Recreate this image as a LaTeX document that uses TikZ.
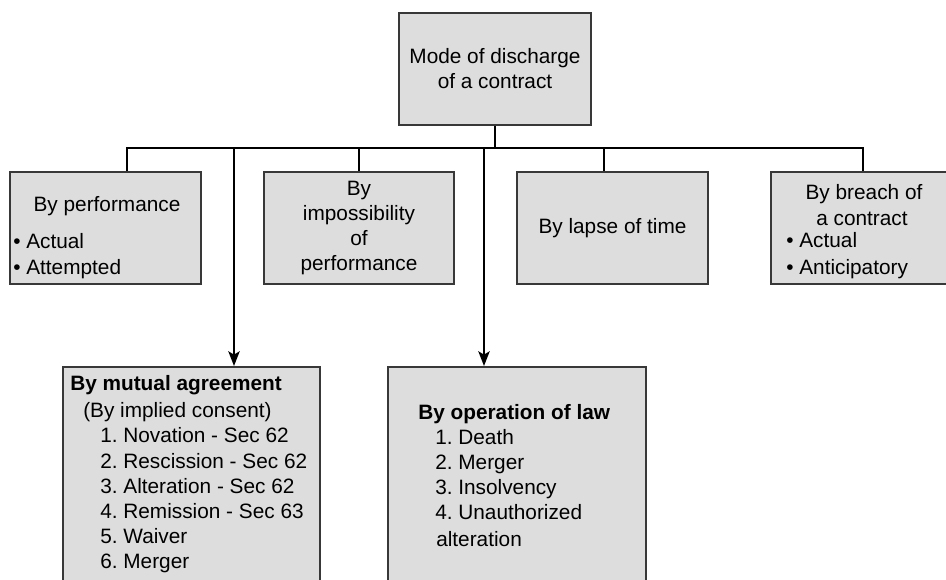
\documentclass[tikz,border=0pt]{standalone}
\usepackage{fontspec}
\setmainfont{Liberation Sans}
\usetikzlibrary{arrows.meta}
\definecolor{boxfill}{HTML}{DDDDDD}
\definecolor{boxline}{HTML}{383838}
\begin{document}
\begin{tikzpicture}[x=0.75pt,y=-0.75pt,
  box/.style={draw=boxline,fill=boxfill,line width=1.5pt,inner sep=0pt,align=center,
    font=\fontsize{15.6}{18.75}\selectfont},
  txt/.style={inner sep=0pt,font=\fontsize{15.6}{18.75}\selectfont},
  btxt/.style={inner sep=0pt,font=\fontsize{15.6}{18.75}\selectfont\bfseries},
  conn/.style={draw=black,line width=1.6pt},
  arr/.style={conn,-{Stealth[length=11pt,width=8.5pt,inset=2.5pt]}}]
\useasboundingbox (0,0) rectangle (946,580);
\clip (0,0) rectangle (946,580);
\fill[white] (0,0) rectangle (946,580);

% boxes
\node[box,minimum width=144pt,minimum height=84pt] (root) at (495,69) {Mode of discharge\\of a contract};
\node[box,minimum width=143.25pt,minimum height=84pt] (b1) at (105.5,228) {};
\node[box,minimum width=142.5pt,minimum height=84pt] (b2) at (359,228) {By\\impossibility\\of\\performance};
\node[box,minimum width=143.25pt,minimum height=84pt] (b3) at (612.5,228) {By lapse of time};
\node[box,minimum width=138pt,minimum height=84pt] (b4) at (863,228) {};
\node[box,minimum width=192.75pt,minimum height=182.25pt] (b5) at (191.5,488.5) {};
\node[box,minimum width=193.5pt,minimum height=182.25pt] (b6) at (517,488.5) {};

% texts of box 1
\node[txt,anchor=base] (b1t) at (107,211.5) {By performance};
\node[txt,anchor=base west] (b1a) at (13,248.5) {•\ Actual};
\node[txt,anchor=base west] (b1b) at (13,274.5) {•\ Attempted};

% texts of box 4
\node[txt,anchor=base] (b4t) at (864,199.5) {By breach of};
\node[txt,anchor=base] (b4u) at (862,225.5) {a contract};
\node[txt,anchor=base west] (b4a) at (786,247.5) {•\ Actual};
\node[txt,anchor=base west] (b4b) at (786,274.5) {•\ Anticipatory};

% texts of box 5
\node[btxt,anchor=base west] (m0) at (70,390.5) {By mutual agreement};
\node[txt,anchor=base west] (m1) at (83,417.5) {(By implied consent)};
\node[txt,anchor=base west] (m2) at (100,442.5) {1.\ Novation - Sec 62};
\node[txt,anchor=base west] (m3) at (100,468.5) {2.\ Rescission - Sec 62};
\node[txt,anchor=base west] (m4) at (100,493.5) {3.\ Alteration - Sec 62};
\node[txt,anchor=base west] (m5) at (100,518.5) {4.\ Remission - Sec 63};
\node[txt,anchor=base west] (m6) at (100,543.5) {5.\ Waiver};
\node[txt,anchor=base west] (m7) at (100,568.5) {6.\ Merger};

% texts of box 6
\node[btxt,anchor=base west] (o0) at (418,419.5) {By operation of law};
\node[txt,anchor=base west] (o1) at (435,444.5) {1.\ Death};
\node[txt,anchor=base west] (o2) at (435,469.5) {2.\ Merger};
\node[txt,anchor=base west] (o3) at (435,494.5) {3.\ Insolvency};
\node[txt,anchor=base west] (o4) at (435,519.5) {4.\ Unauthorized};
\node[txt,anchor=base west] (o5) at (436,546.5) {alteration};

% connectors
\coordinate (hl) at (127,148);
\coordinate (hr) at (863,148);
\coordinate (j3) at (604,148);
\coordinate (a1) at (234,148);
\coordinate (a2) at (484,148);
\draw[conn] (root.south) -- (root.south |- hl);
\draw[conn,line cap=rect] (hl) -- (hr);
\draw[conn] (hl) -- (hl |- b1.north);
\draw[conn] (b2.north |- hl) -- (b2.north);
\draw[conn] (j3) -- (j3 |- b3.north);
\draw[conn] (hr) -- (b4.north);
\draw[arr] (a1) -- (a1 |- b5.north);
\draw[arr] (a2) -- (a2 |- b6.north);
\end{tikzpicture}
\end{document}
